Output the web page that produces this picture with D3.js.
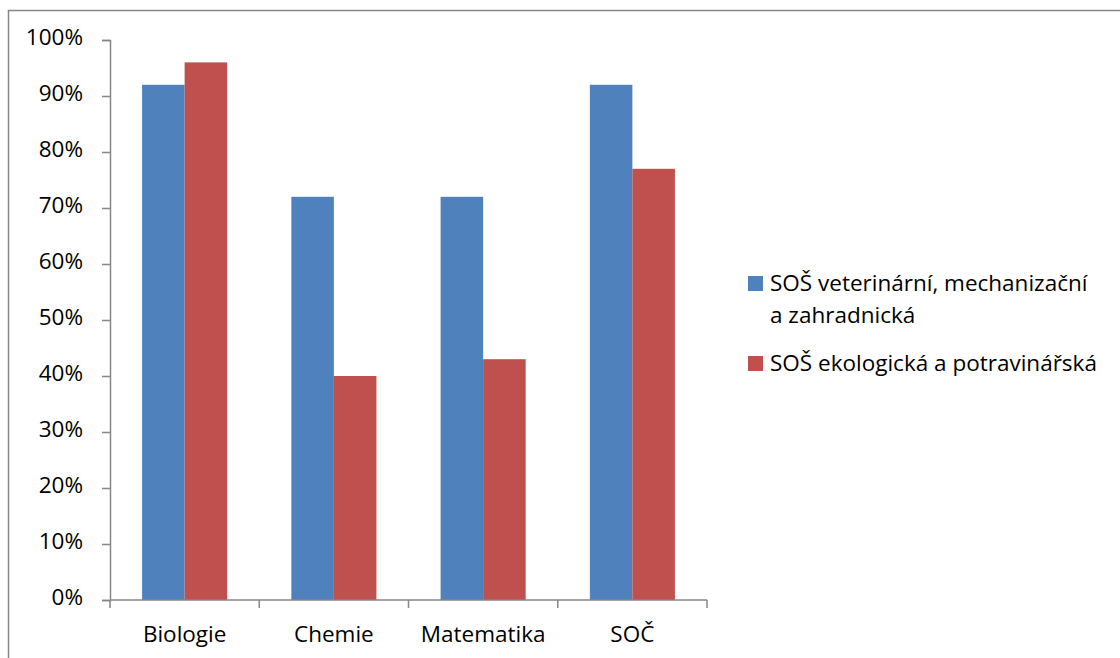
<!DOCTYPE html>
<html>
<head>
<meta charset="utf-8">
<script src="https://cdn.jsdelivr.net/npm/d3@7/dist/d3.min.js"></script>
<style>
  html, body { margin: 0; padding: 0; background: #fff; }
  svg { display: block; }
  text { font-family: "Open Sans", Lato, sans-serif; fill: #000; }
</style>
</head>
<body>
<script>
// Subjects and the share of students per school
const categories = ["Biologie", "Chemie", "Matematika", "SOČ"];
const seriesNames = ["SOŠ veterinární, mechanizační a zahradnická", "SOŠ ekologická a potravinářská"];
const veterinarni = [0.92, 0.72, 0.72, 0.92];
const ekologicka = [0.96, 0.40, 0.43, 0.77];
const yTicks = [0, 0.1, 0.2, 0.3, 0.4, 0.5, 0.6, 0.7, 0.8, 0.9, 1.0];
const colors = ["#4F81BD", "#C0504D"];

const W = 1120, H = 658;
const plot = { left: 110, right: 707, top: 40, bottom: 600 };
const axisColor = "#868686";
const fontSize = "22.5px";

const svg = d3.select("body").append("svg").attr("width", W).attr("height", H);

// outer chart frame (extends past the right and bottom edges)
svg.append("rect")
  .attr("x", 8.5).attr("y", 10.5)
  .attr("width", W + 20).attr("height", H + 20)
  .attr("fill", "#fff").attr("stroke", "#868686").attr("stroke-width", 1.5);

const x0 = d3.scaleBand().domain(categories).range([plot.left, plot.right]).paddingInner(0.43).paddingOuter(0.215);
const x1 = d3.scaleBand().domain([0, 1]).range([0, x0.bandwidth()]);
const y = d3.scaleLinear().domain([0, 1]).range([plot.bottom, plot.top]);

const series = [veterinarni, ekologicka];

// bars
series.forEach((vals, si) => {
  svg.append("g").selectAll("rect")
    .data(categories)
    .join("rect")
    .attr("x", c => x0(c) + x1(si))
    .attr("y", (c, i) => y(vals[i]))
    .attr("width", x1.bandwidth())
    .attr("height", (c, i) => y(0) - y(vals[i]))
    .attr("fill", colors[si]);
});

// y axis
const yAxis = d3.axisLeft(y).tickValues(yTicks).tickFormat(d3.format(".0%")).tickSize(8).tickPadding(19);
const gy = svg.append("g").attr("transform", `translate(${plot.left},0)`).call(yAxis);
gy.select(".domain").attr("stroke", axisColor).attr("stroke-width", 1.5);
gy.selectAll(".tick line").attr("stroke", axisColor).attr("stroke-width", 1.5);
gy.selectAll(".tick text").style("font-size", fontSize).attr("fill", "#000").attr("dy", "0.2em");

// x axis with boundary ticks between categories
const gx = svg.append("g").attr("transform", `translate(0,${plot.bottom})`);
gx.append("line").attr("x1", plot.left).attr("x2", plot.right)
  .attr("stroke", axisColor).attr("stroke-width", 1.5);
const step = (plot.right - plot.left) / categories.length;
const bounds = d3.range(categories.length + 1).map(i => plot.left + i * step);
gx.selectAll("line.tk").data(bounds).join("line").attr("class", "tk")
  .attr("x1", d => d).attr("x2", d => d).attr("y1", 0).attr("y2", 8)
  .attr("stroke", axisColor).attr("stroke-width", 1.5);
gx.selectAll("text").data(categories).join("text")
  .attr("x", c => x0(c) + x0.bandwidth() / 2)
  .attr("y", 42)
  .attr("text-anchor", "middle")
  .style("font-size", fontSize)
  .text(d => d);

// legend
const legend = svg.append("g");
const legendItems = [
  { lines: ["SOŠ veterinární, mechanizační", "a zahradnická"], y: 276 },
  { lines: ["SOŠ ekologická a potravinářská"], y: 356 }
];
legendItems.forEach((it, i) => {
  legend.append("rect").attr("x", 748).attr("y", it.y).attr("width", 15).attr("height", 15).attr("fill", colors[i]);
  it.lines.forEach((ln, j) => {
    legend.append("text").attr("x", 770).attr("y", it.y + 14.5 + j * 32.5)
      .style("font-size", fontSize).text(ln);
  });
});
</script>
</body>
</html>
